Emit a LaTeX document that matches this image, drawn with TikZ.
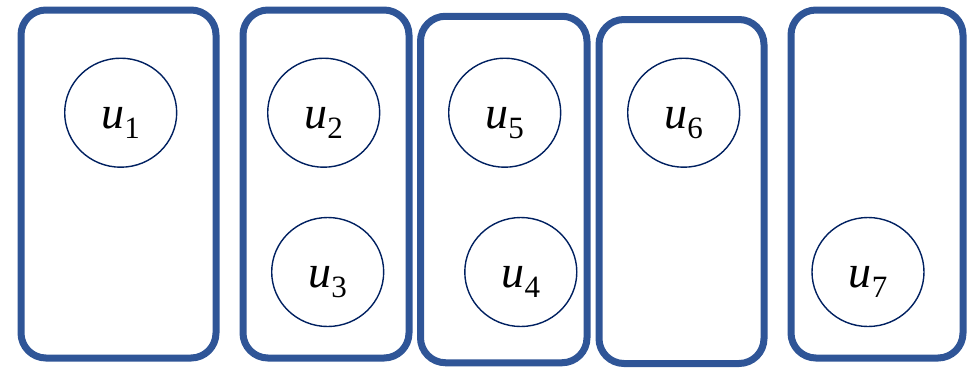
\documentclass[tikz,border=0pt]{standalone}
\usepackage{fontspec}
\setmainfont{Liberation Serif}
\usetikzlibrary{shapes.geometric}
\definecolor{boxblue}{HTML}{2F5597}
\definecolor{circnavy}{HTML}{002060}
\newcommand{\ulab}[1]{{\fontsize{46}{46}\selectfont\itshape u}\raisebox{-10pt}{\fontsize{31}{31}\selectfont #1}}
\tikzset{
  group/.style={draw=boxblue, line width=7pt, rounded corners=25pt, rectangle, inner sep=0pt},
  vert/.style={draw=circnavy, line width=1.4pt, ellipse, minimum width=112pt, minimum height=109pt, inner sep=0pt},
  lab/.style={anchor=base, inner sep=0pt, text=black}
}
\begin{document}
\begin{tikzpicture}[x=1pt,y=-1pt]
\useasboundingbox (0,0) rectangle (967,368);
% group boxes
\node[group, minimum width=195pt, minimum height=348pt] (b1) at (118.5,184) {};
\node[group, minimum width=166pt, minimum height=348pt] (b2) at (326,184) {};
\node[group, minimum width=166.5pt, minimum height=346.5pt] (b3) at (503.75,189.5) {};
\node[group, minimum width=165pt, minimum height=344pt] (b4) at (681.5,191.5) {};
\node[group, minimum width=172pt, minimum height=348pt] (b5) at (877,184) {};
% vertices
\node[vert] (c1) at (120.7,112.7) {};
\node[vert] (c2) at (323.7,112.7) {};
\node[vert] (c3) at (327.7,272) {};
\node[vert] (c5) at (504.7,112.7) {};
\node[vert] (c4) at (520.8,272) {};
\node[vert] (c6) at (683.7,112.7) {};
\node[vert] (c7) at (868,272) {};
% labels
\node[lab] (t1) at ([yshift=-15.8pt]c1.center) {\ulab{1}};
\node[lab] (t2) at ([yshift=-15.8pt]c2.center) {\ulab{2}};
\node[lab] (t3) at ([yshift=-15.8pt]c3.center) {\ulab{3}};
\node[lab] (t5) at ([yshift=-15.8pt]c5.center) {\ulab{5}};
\node[lab] (t4) at ([yshift=-15.8pt]c4.center) {\ulab{4}};
\node[lab] (t6) at ([yshift=-15.8pt]c6.center) {\ulab{6}};
\node[lab] (t7) at ([yshift=-15.8pt]c7.center) {\ulab{7}};
\end{tikzpicture}
\end{document}
